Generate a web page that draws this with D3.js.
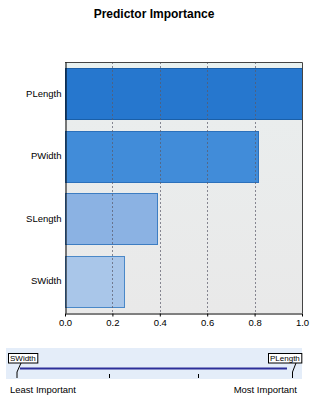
<html>
<head>
<script src="https://d3js.org/d3.v7.min.js"></script>
<style>
  body { margin: 0; background: #fff; font-family: "Liberation Sans", Arial, sans-serif; }
  text { fill: #000; }
</style>
</head>
<body>
<svg id="chart" width="315" height="402"></svg>
<script>
// predictors, top to bottom
var predictors = ["PLength", "PWidth", "SLength", "SWidth"];
var importance = [1.0, 0.813, 0.388, 0.25];
var xTicks = [0.0, 0.2, 0.4, 0.6, 0.8, 1.0];
var barFill = ["#1f73cc", "#3b88d8", "#87b0e2", "#a6c4e8"];
var barStroke = ["#1a5fa8", "#2b70bb", "#3d7dc2", "#4a88c8"];

var svg = d3.select("#chart");

// note: "top" is taken by window.top, so use plot* names
var plotLeft = 65, plotRight = 302, plotTop = 62, plotBottom = 313;

svg.append("text")
  .attr("x", 154).attr("y", 18)
  .attr("text-anchor", "middle")
  .style("font-size", "12px").style("font-weight", "bold")
  .text("Predictor Importance");

var x = d3.scaleLinear().domain([0, 1]).range([plotLeft, plotRight]);
var y = d3.scaleBand().domain(predictors).range([plotTop, plotBottom])
  .paddingInner(0.18).paddingOuter(0.1);

// plot background
var grad = svg.append("defs").append("linearGradient")
  .attr("id", "bg").attr("x1", 0).attr("y1", 0).attr("x2", 0).attr("y2", 1);
grad.append("stop").attr("offset", "0").attr("stop-color", "#e8f3f1");
grad.append("stop").attr("offset", "0.04").attr("stop-color", "#eaeeee");
grad.append("stop").attr("offset", "1").attr("stop-color", "#e9e9e9");

svg.append("rect")
  .attr("x", plotLeft).attr("y", plotTop)
  .attr("width", plotRight - plotLeft).attr("height", plotBottom - plotTop)
  .attr("fill", "url(#bg)");

// bars
svg.append("g").selectAll("rect")
  .data(predictors)
  .enter().append("rect")
  .attr("x", x(0) + 0.5)
  .attr("y", function(d) { return Math.round(y(d)) + 0.5; })
  .attr("width", function(d, i) { return Math.round(x(importance[i]) - x(0)); })
  .attr("height", Math.round(y.bandwidth()))
  .attr("fill", function(d, i) { return barFill[i]; })
  .attr("fill-opacity", 0.97)
  .attr("stroke", function(d, i) { return barStroke[i]; })
  .attr("stroke-width", 1);

// grid, drawn over the bars like the original
svg.append("g").selectAll("line")
  .data(xTicks.slice(1, -1))
  .enter().append("line")
  .attr("x1", function(d) { return Math.round(x(d)) + 0.5; })
  .attr("x2", function(d) { return Math.round(x(d)) + 0.5; })
  .attr("y1", plotTop).attr("y2", plotBottom)
  .attr("stroke", "#5a5a6a")
  .attr("stroke-opacity", 0.7)
  .attr("stroke-width", 1)
  .attr("stroke-dasharray", "2,2");

// frame
svg.append("path")
  .attr("d", "M" + plotLeft + "," + (plotTop + 0.5) + "H" + (plotRight + 0.5) + "V" + plotBottom)
  .attr("fill", "none").attr("stroke", "#444").attr("stroke-width", 1);

// axes
var yAxis = svg.append("g")
  .attr("transform", "translate(" + (plotLeft + 0.5) + ",0)")
  .call(d3.axisLeft(y).tickSize(0).tickPadding(4));
yAxis.select(".domain").attr("stroke", "#000");
yAxis.selectAll("text").style("font-size", "9.5px").style("font-family", "Liberation Sans, Arial, sans-serif");

var xAxis = svg.append("g")
  .attr("transform", "translate(0," + (plotBottom + 0.5) + ")")
  .call(d3.axisBottom(x).tickValues(xTicks).tickFormat(d3.format(".1f")).tickSize(3).tickSizeOuter(0).tickPadding(3));
xAxis.select(".domain").attr("stroke", "#000");
xAxis.selectAll("text").style("font-size", "9.5px").style("font-family", "Liberation Sans, Arial, sans-serif");

// ranking strip
var ranked = predictors.slice().sort(function(a, b) {
  return importance[predictors.indexOf(a)] - importance[predictors.indexOf(b)];
});
var r = d3.scalePoint().domain(ranked).range([20, 287]);

svg.append("rect")
  .attr("x", 6).attr("y", 348).attr("width", 296).attr("height", 31)
  .attr("fill", "#e4edf9");

svg.append("line")
  .attr("x1", r(ranked[0])).attr("x2", r(ranked[ranked.length - 1]))
  .attr("y1", 368.5).attr("y2", 368.5)
  .attr("stroke", "#2c2f9a").attr("stroke-width", 2.2);

svg.append("g").selectAll("line")
  .data(ranked.slice(1, -1))
  .enter().append("line")
  .attr("x1", function(d) { return Math.round(r(d)) + 0.5; })
  .attr("x2", function(d) { return Math.round(r(d)) + 0.5; })
  .attr("y1", 374).attr("y2", 378)
  .attr("stroke", "#000");

// end labels with leaders
var ends = [
  { name: ranked[0], bx: 8, lx: 17, anchorX: 21 },
  { name: ranked[ranked.length - 1], bx: 268, lx: 292.5, anchorX: 296 }
];
ends.forEach(function(e) {
  var g = svg.append("g");
  var t = g.append("text")
    .attr("x", e.bx + 2).attr("y", 361)
    .style("font-size", "8px")
    .text(e.name);
  var w = t.node().getComputedTextLength();
  g.insert("rect", "text")
    .attr("x", e.bx + 0.5).attr("y", 353.5)
    .attr("width", w + 3.5).attr("height", 9.5)
    .attr("fill", "#fff").attr("stroke", "#000").attr("stroke-width", 1);
  g.append("path")
    .attr("d", "M" + e.anchorX + ",363 L" + e.lx + ",372 V378")
    .attr("fill", "none").attr("stroke", "#000").attr("stroke-width", 1);
});

svg.append("text")
  .attr("x", 10).attr("y", 393)
  .style("font-size", "9.5px")
  .text("Least Important");
svg.append("text")
  .attr("x", 297).attr("y", 393)
  .attr("text-anchor", "end")
  .style("font-size", "9.5px")
  .text("Most Important");
</script>
</body>
</html>
